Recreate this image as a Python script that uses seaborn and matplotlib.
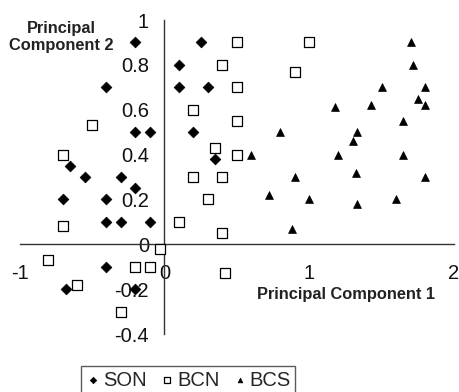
import matplotlib
matplotlib.use("Agg")
import matplotlib.pyplot as plt
import seaborn as sns
import pandas as pd
from matplotlib.ticker import FuncFormatter

son_x = [-0.2, 0.25, 0.1, -0.4, 0.1, 0.3, -0.2, -0.1, 0.2, 0.35, -0.65, -0.55, -0.3, -0.2,
         -0.7, -0.4, -0.4, -0.3, -0.1, -0.4, -0.68, -0.2]
son_y = [0.9, 0.9, 0.8, 0.7, 0.7, 0.7, 0.5, 0.5, 0.5, 0.38, 0.35, 0.3, 0.3, 0.25,
         0.2, 0.2, 0.1, 0.1, 0.1, -0.1, -0.2, -0.2]

bcn_x = [0.4, 0.2, -0.5, -0.7, 0.35, 0.2, 0.4, 0.3, 0.5, 1.0, 0.9, 0.5, 0.5, 0.5,
         -0.7, 0.1, 0.4, -0.03, -0.8, -0.2, -0.1, 0.42, -0.6, -0.3]
bcn_y = [0.8, 0.6, 0.53, 0.4, 0.43, 0.3, 0.3, 0.2, 0.9, 0.9, 0.77, 0.7, 0.55, 0.4,
         0.08, 0.1, 0.05, -0.02, -0.07, -0.1, -0.1, -0.13, -0.18, -0.3]

bcs_x = [1.7, 1.72, 1.5, 1.8, 1.75, 1.8, 1.18, 1.43, 1.65, 0.8, 1.33, 1.3, 0.6, 1.2,
         1.65, 0.9, 1.32, 1.8, 0.72, 1.0, 1.33, 1.6, 0.88]
bcs_y = [0.9, 0.8, 0.7, 0.7, 0.65, 0.62, 0.61, 0.62, 0.55, 0.5, 0.5, 0.46, 0.4, 0.4,
         0.4, 0.3, 0.32, 0.3, 0.22, 0.2, 0.18, 0.2, 0.07]

x_ticks = [-1, 0, 1, 2]
y_ticks = [-0.4, -0.2, 0, 0.2, 0.4, 0.6, 0.8, 1]

sns.set_style("white")
plt.rcParams['font.family'] = ['Liberation Sans', 'DejaVu Sans']
plt.rcParams['axes.unicode_minus'] = False

fig = plt.figure(figsize=(4.59, 3.92), dpi=100)
ax = fig.add_axes([19.5/459, 1-334/392, (454-19.5)/459, (334-20)/392])

son = pd.DataFrame({"x": son_x, "y": son_y})
bcn = pd.DataFrame({"x": bcn_x, "y": bcn_y})
bcs = pd.DataFrame({"x": bcs_x, "y": bcs_y})

sns.scatterplot(data=son, x="x", y="y", marker="D", s=30, color="black",
                edgecolor="black", linewidth=0.5, ax=ax, label="SON", zorder=3)
sns.scatterplot(data=bcn, x="x", y="y", marker="s", s=46, color="white",
                edgecolor="black", linewidth=0.9, ax=ax, label="BCN", zorder=3)
sns.scatterplot(data=bcs, x="x", y="y", marker="^", s=32, color="black",
                edgecolor="black", linewidth=0.5, ax=ax, label="BCS", zorder=3)

ax.set_xlim(-1, 2)
ax.set_ylim(-0.4, 1)
ax.set_xticks(x_ticks)
ax.set_yticks(y_ticks)
fmt = FuncFormatter(lambda v, p: ("%g" % round(v, 2)))
ax.xaxis.set_major_formatter(fmt)
ax.yaxis.set_major_formatter(fmt)
ax.set_xlabel("")
ax.set_ylabel("")

for s in ["top", "right"]:
    ax.spines[s].set_visible(False)
ax.spines["left"].set_position(("data", 0))
ax.spines["bottom"].set_position(("data", 0))
for s in ["left", "bottom"]:
    ax.spines[s].set_color("#333333")
    ax.spines[s].set_linewidth(1.0)

ax.tick_params(axis="both", direction="out", length=4, width=1, color="#333333",
               labelsize=14.5, labelcolor="#111111")
ax.tick_params(axis="x", pad=10)
ax.tick_params(axis="y", pad=7)
ax.patch.set_alpha(0)

fig.text(346/459, 1-294/392, "Principal Component 1", ha="center", va="center",
         fontsize=11.8, fontweight="bold", color="#222222")
fig.text(61/459, 1-37/392, "Principal\nComponent 2", ha="center", va="center",
         fontsize=11.8, fontweight="bold", color="#222222", linespacing=1.2)

if ax.get_legend():
    ax.get_legend().remove()
h, l = ax.get_legend_handles_labels()
leg = fig.legend(h, l, loc="center", bbox_to_anchor=(188/459, 1-380/392), ncol=3,
                 frameon=True, fancybox=False, fontsize=14.5, markerscale=0.6,
                 handletextpad=0.1, columnspacing=0.6, handlelength=0.8,
                 borderpad=0.2, borderaxespad=0)
leg.get_frame().set_edgecolor("#333333")
leg.get_frame().set_linewidth(1.0)

fig.savefig("out.png", dpi=100)
